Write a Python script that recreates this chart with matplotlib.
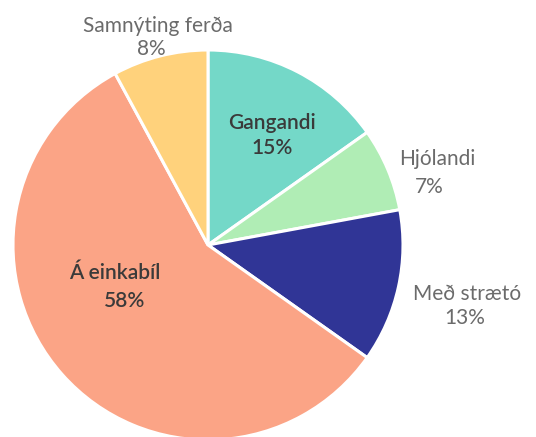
import matplotlib.pyplot as plt

# Share of trips by mode
modes = ["Gangandi", "Hjólandi", "Með strætó", "Á einkabíl", "Samnýting ferða"]
shares = [15.2, 6.9, 12.7, 57.3, 7.9]
pct_labels = ["15%", "7%", "13%", "58%", "8%"]
colors = ["#74D8C8", "#B0EDB5", "#303596", "#FBA486", "#FFD27C"]
inside = [True, False, False, True, False]

plt.rcParams['font.family'] = ['Lato', 'DejaVu Sans']

fig = plt.figure(figsize=(5.36, 4.37), dpi=100)
ax = fig.add_axes([0, 0, 1, 1])

H = 437
ax.pie(shares, colors=colors, startangle=90, counterclock=False,
       center=(208, H - 245), radius=195, frame=True,
       wedgeprops=dict(edgecolor='white', linewidth=2.2))
ax.set_xlim(0, 536)
ax.set_ylim(0, H)
ax.set_aspect('equal')
ax.axis('off')

# label anchors: (x of name, baseline of name, x of pct, baseline of pct), y from top
label_pos = [(272, 129, 272, 154),
             (437, 165, 429, 193),
             (467, 300, 465, 324),
             (115, 279, 125, 307),
             (158, 32, 151, 55)]
for name, pct, (x1, y1, x2, y2), ins in zip(modes, pct_labels, label_pos, inside):
    col = '#3a3a3a' if ins else '#6b6b6b'
    w = 'semibold' if ins else 'normal'
    ax.text(x1, H - y1, name, ha='center', va='baseline', fontsize=15,
            color=col, fontweight=w)
    ax.text(x2, H - y2, pct, ha='center', va='baseline', fontsize=15,
            color=col, fontweight=w)

fig.savefig("out.png", dpi=100)
